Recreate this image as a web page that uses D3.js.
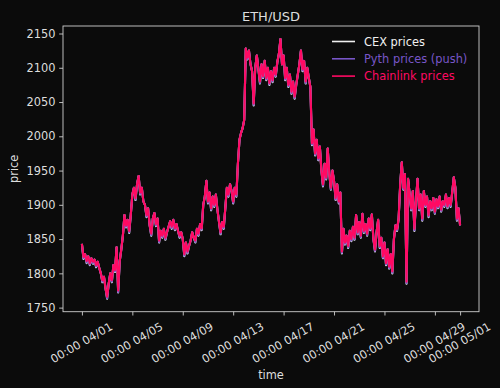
<!DOCTYPE html>
<html>
<head>
<meta charset="utf-8">
<script src="https://cdn.jsdelivr.net/npm/d3@7"></script>
<style>
  html, body { margin: 0; padding: 0; background: #0b0b0b; }
  svg { display: block; font-family: "DejaVu Sans", sans-serif; }
</style>
</head>
<body>
<script>
// prices every 3 hours, 2023-04-01 00:00 -> 2023-05-01 00:00 (UTC)
const startTime = "2023-04-01T00:00:00Z";
const stepHours = 3;

const cexPrices = [
  1843, 1821, 1828, 1815, 1825, 1812, 1822, 1814,
  1820, 1809, 1817, 1808, 1800, 1787, 1795, 1778,
  1763, 1785, 1800, 1787, 1812, 1802, 1838, 1772,
  1818, 1835, 1855, 1885, 1867, 1878, 1859, 1885,
  1915, 1925, 1907, 1930, 1942, 1915, 1925, 1905,
  1900, 1882, 1895, 1870, 1855, 1880, 1888, 1869,
  1880, 1845, 1862, 1852, 1865, 1849, 1860, 1868,
  1876, 1865, 1878, 1863, 1872, 1862, 1852, 1860,
  1850, 1825, 1845, 1829, 1840, 1848, 1860, 1852,
  1845, 1865, 1855, 1872, 1863, 1900, 1912, 1935,
  1902, 1918, 1892, 1912, 1897, 1915, 1893, 1875,
  1857, 1875, 1865, 1895, 1925, 1912, 1930, 1920,
  1902, 1925, 1912, 1960, 1995, 2005, 2012, 2024,
  2128, 2112, 2125, 2105, 2095, 2045, 2100, 2118,
  2098, 2077, 2105, 2085, 2110, 2082, 2100, 2075,
  2095, 2079, 2100, 2087, 2108, 2120, 2142, 2105,
  2118, 2082, 2100, 2072, 2090, 2062, 2080, 2055,
  2075, 2090, 2105, 2125, 2095, 2110, 2077, 2100,
  2085, 2072, 1987, 2010, 1972, 1995, 1965, 1985,
  1950, 1927, 1960, 1937, 1982, 1945, 1922, 1950,
  1935, 1907, 1930, 1902, 1918, 1829, 1865, 1842,
  1855, 1837, 1862, 1847, 1868, 1849, 1885, 1857,
  1875, 1852, 1887, 1859, 1872, 1855, 1880, 1863,
  1886, 1850, 1832, 1860, 1878, 1837, 1852, 1822,
  1845, 1812, 1835, 1807, 1828, 1800, 1850, 1870,
  1862, 1880, 1930, 1962, 1922, 1945, 1785, 1938,
  1915, 1892, 1920, 1862, 1905, 1938, 1892, 1915,
  1877, 1920, 1897, 1912, 1882, 1905, 1892, 1910,
  1887, 1908, 1895, 1912, 1890, 1905, 1897, 1915,
  1895, 1910, 1897, 1918, 1940, 1925, 1877, 1895,
  1870
];

const pythPrices = [
  1843, 1822, 1828, 1816, 1825, 1813, 1822, 1815,
  1820, 1810, 1817, 1808, 1800, 1788, 1795, 1778,
  1764, 1785, 1800, 1788, 1812, 1803, 1838, 1773,
  1818, 1835, 1855, 1885, 1868, 1878, 1860, 1885,
  1915, 1925, 1908, 1930, 1942, 1916, 1925, 1905,
  1900, 1883, 1895, 1870, 1856, 1880, 1888, 1870,
  1880, 1846, 1862, 1853, 1865, 1850, 1860, 1868,
  1876, 1866, 1878, 1864, 1872, 1862, 1853, 1860,
  1850, 1826, 1845, 1830, 1840, 1848, 1860, 1852,
  1846, 1865, 1856, 1872, 1864, 1900, 1912, 1935,
  1903, 1918, 1893, 1912, 1898, 1915, 1893, 1875,
  1858, 1875, 1866, 1895, 1925, 1913, 1930, 1920,
  1903, 1925, 1913, 1960, 1995, 2005, 2012, 2024,
  2128, 2113, 2125, 2105, 2095, 2046, 2100, 2118,
  2098, 2078, 2105, 2086, 2110, 2083, 2100, 2076,
  2095, 2080, 2100, 2088, 2108, 2120, 2142, 2105,
  2118, 2083, 2100, 2073, 2090, 2063, 2080, 2056,
  2075, 2090, 2105, 2125, 2096, 2110, 2078, 2100,
  2085, 2072, 1988, 2010, 1973, 1995, 1966, 1985,
  1950, 1928, 1960, 1938, 1982, 1945, 1923, 1950,
  1935, 1908, 1930, 1903, 1918, 1830, 1865, 1843,
  1855, 1838, 1862, 1848, 1868, 1850, 1885, 1858,
  1875, 1853, 1887, 1860, 1872, 1856, 1880, 1864,
  1886, 1850, 1833, 1860, 1878, 1838, 1852, 1823,
  1845, 1813, 1835, 1808, 1828, 1801, 1850, 1870,
  1863, 1880, 1930, 1962, 1923, 1945, 1786, 1938,
  1915, 1893, 1920, 1863, 1905, 1938, 1893, 1915,
  1878, 1920, 1898, 1912, 1883, 1905, 1893, 1910,
  1888, 1908, 1896, 1912, 1891, 1905, 1898, 1915,
  1896, 1910, 1898, 1918, 1940, 1925, 1878, 1895,
  1870
];

const chainlinkPrices = [
  1843, 1824, 1828, 1818, 1825, 1815, 1822, 1817,
  1820, 1812, 1817, 1808, 1800, 1790, 1795, 1778,
  1766, 1785, 1800, 1790, 1812, 1805, 1838, 1775,
  1818, 1835, 1855, 1885, 1870, 1878, 1862, 1885,
  1915, 1925, 1910, 1930, 1942, 1918, 1925, 1905,
  1900, 1885, 1895, 1870, 1858, 1880, 1888, 1872,
  1880, 1848, 1862, 1855, 1865, 1852, 1860, 1868,
  1876, 1868, 1878, 1866, 1872, 1862, 1855, 1860,
  1850, 1828, 1845, 1832, 1840, 1848, 1860, 1852,
  1848, 1865, 1858, 1872, 1866, 1900, 1912, 1935,
  1905, 1918, 1895, 1912, 1900, 1915, 1893, 1875,
  1860, 1875, 1868, 1895, 1925, 1915, 1930, 1920,
  1905, 1925, 1915, 1960, 1995, 2005, 2012, 2024,
  2128, 2115, 2125, 2105, 2095, 2048, 2100, 2118,
  2098, 2080, 2105, 2088, 2110, 2085, 2100, 2078,
  2095, 2082, 2100, 2090, 2108, 2120, 2142, 2105,
  2118, 2085, 2100, 2075, 2090, 2065, 2080, 2058,
  2075, 2090, 2105, 2125, 2098, 2110, 2080, 2100,
  2085, 2072, 1990, 2010, 1975, 1995, 1968, 1985,
  1950, 1930, 1960, 1940, 1982, 1945, 1925, 1950,
  1935, 1910, 1930, 1905, 1918, 1832, 1865, 1845,
  1855, 1840, 1862, 1850, 1868, 1852, 1885, 1860,
  1875, 1855, 1887, 1862, 1872, 1858, 1880, 1866,
  1886, 1850, 1835, 1860, 1878, 1840, 1852, 1825,
  1845, 1815, 1835, 1810, 1828, 1803, 1850, 1870,
  1865, 1880, 1930, 1962, 1925, 1945, 1788, 1938,
  1915, 1895, 1920, 1865, 1905, 1938, 1895, 1915,
  1880, 1920, 1900, 1912, 1885, 1905, 1895, 1910,
  1890, 1908, 1898, 1912, 1893, 1905, 1900, 1915,
  1898, 1910, 1900, 1918, 1940, 1925, 1880, 1895,
  1870
];

const seriesNames = ["CEX prices", "Pyth prices (push)", "Chainlink prices"];
const seriesColors = ["#f0f0f0", "#7856c8", "#ff0a63"];
const xTickDates = ["2023-04-01", "2023-04-05", "2023-04-09", "2023-04-13", "2023-04-17",
                    "2023-04-21", "2023-04-25", "2023-04-29", "2023-05-01"];
const yTicks = [1750, 1800, 1850, 1900, 1950, 2000, 2050, 2100, 2150];

const width = 500, height = 388;
const margin = { top: 26, right: 21, bottom: 76.3, left: 63 };
const fg = "#dedede";
const fontSize = 11.4;

const t0 = new Date(startTime).getTime();
const times = chainlinkPrices.map((d, i) => new Date(t0 + i * stepHours * 3600e3));
const allSeries = [cexPrices, pythPrices, chainlinkPrices];

const svg = d3.select("body").append("svg")
    .attr("width", width)
    .attr("height", height);

svg.append("rect").attr("width", width).attr("height", height).attr("fill", "#0b0b0b");

// matplotlib style 5% margins
const tExt = d3.extent(times);
const tPad = (tExt[1] - tExt[0]) * 0.05;
const x = d3.scaleUtc()
    .domain([new Date(+tExt[0] - tPad), new Date(+tExt[1] + tPad)])
    .range([margin.left, width - margin.right]);

const yMin = d3.min(allSeries, s => d3.min(s));
const yMax = d3.max(allSeries, s => d3.max(s));
const yPad = (yMax - yMin) * 0.05;
const y = d3.scaleLinear()
    .domain([yMin - yPad, yMax + yPad])
    .range([height - margin.bottom, margin.top]);

const plot = svg.append("g");
const line = d3.line()
    .x((d, i) => x(times[i]))
    .y(d => y(d));

allSeries.forEach((s, k) => {
    plot.append("path")
        .datum(s)
        .attr("fill", "none")
        .attr("stroke", seriesColors[k])
        .attr("stroke-width", 2.1)
        .attr("stroke-linejoin", "round")
        .attr("d", line);
});

// axes
const yAxis = svg.append("g")
    .attr("transform", `translate(${margin.left},0)`)
    .call(d3.axisLeft(y).tickValues(yTicks).tickFormat(d3.format("d"))
        .tickSize(3.8).tickPadding(3.8));

const xFmt = d3.utcFormat("%H:%M %m/%d");
const xAxis = svg.append("g")
    .attr("transform", `translate(0,${height - margin.bottom})`)
    .call(d3.axisBottom(x).tickValues(xTickDates.map(d => new Date(d + "T00:00:00Z")))
        .tickSize(3.8).tickFormat(xFmt));

[xAxis, yAxis].forEach(g => {
    g.select(".domain").remove();
    g.selectAll(".tick line").attr("stroke", "#cfcfcf").attr("stroke-width", 0.9);
    g.selectAll("text").attr("fill", fg).style("font-size", fontSize + "px")
        .style("font-family", "DejaVu Sans");
});

// rotated date labels, centered on the tick like matplotlib rotation=30
xAxis.selectAll(".tick text")
    .attr("y", 0)
    .attr("dy", null)
    .attr("text-anchor", "middle")
    .attr("dominant-baseline", "central")
    .attr("transform", "translate(-1,31) rotate(-30)");

// frame
svg.append("rect")
    .attr("x", margin.left)
    .attr("y", margin.top)
    .attr("width", width - margin.left - margin.right)
    .attr("height", height - margin.top - margin.bottom)
    .attr("fill", "none")
    .attr("stroke", "#cfcfcf")
    .attr("stroke-width", 0.9);

// title and labels
const cx = (margin.left + width - margin.right) / 2;
svg.append("text")
    .attr("x", cx).attr("y", 20.5)
    .attr("text-anchor", "middle")
    .attr("fill", fg)
    .style("font-size", "13px")
    .text("ETH/USD");

svg.append("text")
    .attr("x", cx).attr("y", 378.5)
    .attr("text-anchor", "middle")
    .attr("fill", fg)
    .style("font-size", fontSize + "px")
    .text("time");

svg.append("text")
    .attr("transform", `translate(17.5,${(margin.top + height - margin.bottom) / 2}) rotate(-90)`)
    .attr("text-anchor", "middle")
    .attr("fill", fg)
    .style("font-size", fontSize + "px")
    .text("price");

// legend
const legend = svg.append("g").attr("transform", "translate(332,41.5)");
seriesNames.forEach((name, k) => {
    const row = legend.append("g").attr("transform", `translate(0,${k * 17.3})`);
    row.append("line")
        .attr("x1", 0).attr("x2", 23)
        .attr("stroke", seriesColors[k])
        .attr("stroke-width", 1.6);
    row.append("text")
        .attr("x", 32).attr("y", 0)
        .attr("dy", "0.35em")
        .attr("fill", seriesColors[k])
        .style("font-size", fontSize + "px")
        .text(name);
});
</script>
</body>
</html>
